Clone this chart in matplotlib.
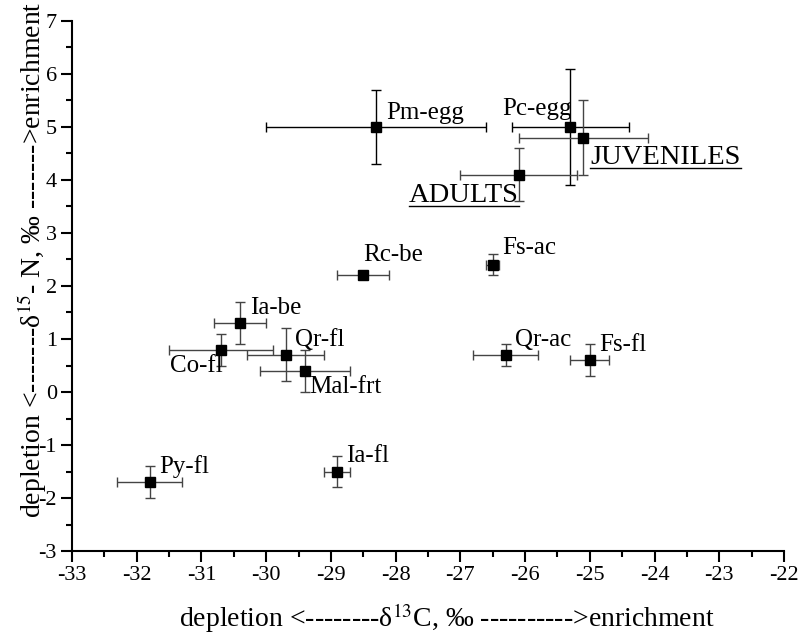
import matplotlib
matplotlib.use('Agg')
import matplotlib.pyplot as plt
from matplotlib.ticker import MultipleLocator
from matplotlib.lines import Line2D

plt.rcParams['font.family'] = ['Liberation Serif', 'DejaVu Serif']
plt.rcParams['mathtext.fontset'] = 'stix'
plt.rcParams['axes.unicode_minus'] = False

# samples: d13C, d15N with standard deviations
names = ['Pm-egg', 'Pc-egg', 'JUVENILES', 'ADULTS', 'Fs-ac', 'Rc-be', 'Ia-be',
         'Co-fl', 'Qr-fl', 'Mal-frt', 'Qr-ac', 'Fs-fl', 'Py-fl', 'Ia-fl']
d13c = [-28.3, -25.3, -25.1, -26.1, -26.5, -28.5, -30.4,
        -30.7, -29.7, -29.4, -26.3, -25.0, -31.8, -28.9]
d15n = [5.0, 5.0, 4.8, 4.1, 2.4, 2.2, 1.3,
        0.8, 0.7, 0.4, 0.7, 0.6, -1.7, -1.5]
sd13c = [1.7, 0.9, 1.0, 0.9, 0.1, 0.4, 0.4,
         0.8, 0.6, 0.7, 0.5, 0.3, 0.5, 0.2]
sd15n = [0.7, 1.1, 0.7, 0.5, 0.2, 0.0, 0.4,
         0.3, 0.5, 0.4, 0.2, 0.3, 0.3, 0.3]

# label offsets in points and alignment
offsets = [(7, 10), (1, 13), (5, -14), (0, -15), (7, 12), (0, 15), (7, 11),
           (1, -12), (7, 11), (3, -12), (7, 11), (7, 11), (7, 11), (6, 11)]
aligns = ['left', 'right', 'left', 'right', 'left', 'left', 'left',
          'right', 'left', 'left', 'left', 'left', 'left', 'left']
underlined = ['JUVENILES', 'ADULTS']

fig = plt.figure(figsize=(8.03, 6.34), dpi=100)
ax = fig.add_axes([0.0897, 0.1309, 0.8866, 0.8360])

for i in range(len(names)):
    col = 'black' if names[i] in ('Pm-egg', 'Pc-egg') else '#444444'
    ax.errorbar(d13c[i], d15n[i], xerr=sd13c[i], yerr=sd15n[i], fmt='s',
                color='black', ms=7, ecolor=col, elinewidth=1.0, capsize=3.5,
                capthick=1.0)

texts = []
for i in range(len(names)):
    fs = 20.5 if names[i] in underlined else 18
    t = ax.annotate(names[i], (d13c[i], d15n[i]), xytext=offsets[i],
                    textcoords='offset points', ha=aligns[i], va='center',
                    fontsize=fs)
    texts.append(t)

ax.set_xlim(-33, -22)
ax.set_ylim(-3, 7)
ax.xaxis.set_major_locator(MultipleLocator(1))
ax.xaxis.set_minor_locator(MultipleLocator(0.5))
ax.yaxis.set_major_locator(MultipleLocator(1))
ax.yaxis.set_minor_locator(MultipleLocator(0.5))
ax.tick_params(which='major', direction='out', length=8, width=1.5,
               labelsize=16, pad=3)
ax.tick_params(which='minor', direction='out', length=4, width=1.5)
ax.spines['top'].set_visible(False)
ax.spines['right'].set_visible(False)
ax.spines['left'].set_linewidth(1.5)
ax.spines['bottom'].set_linewidth(1.5)

ax.set_xlabel('depletion <--------δ$^{13}$C, ‰ ---------->enrichment', fontsize=20)
ax.set_ylabel('depletion <-------δ$^{15}$- N, ‰ ------->enrichment', fontsize=20)
ax.xaxis.set_label_coords(0.526, -0.095)
ax.yaxis.set_label_coords(-0.033, 0.549)

fig.canvas.draw()
r = fig.canvas.get_renderer()
for t in texts:
    if t.get_text() in underlined:
        bb = t.get_window_extent(r)
        x0, y0 = fig.transFigure.inverted().transform((bb.x0, bb.y0 + 2))
        x1, _ = fig.transFigure.inverted().transform((bb.x1, bb.y0 + 2))
        fig.add_artist(Line2D([x0, x1], [y0, y0], color='black', lw=1.0,
                              transform=fig.transFigure))

fig.savefig('out.png', dpi=100)
